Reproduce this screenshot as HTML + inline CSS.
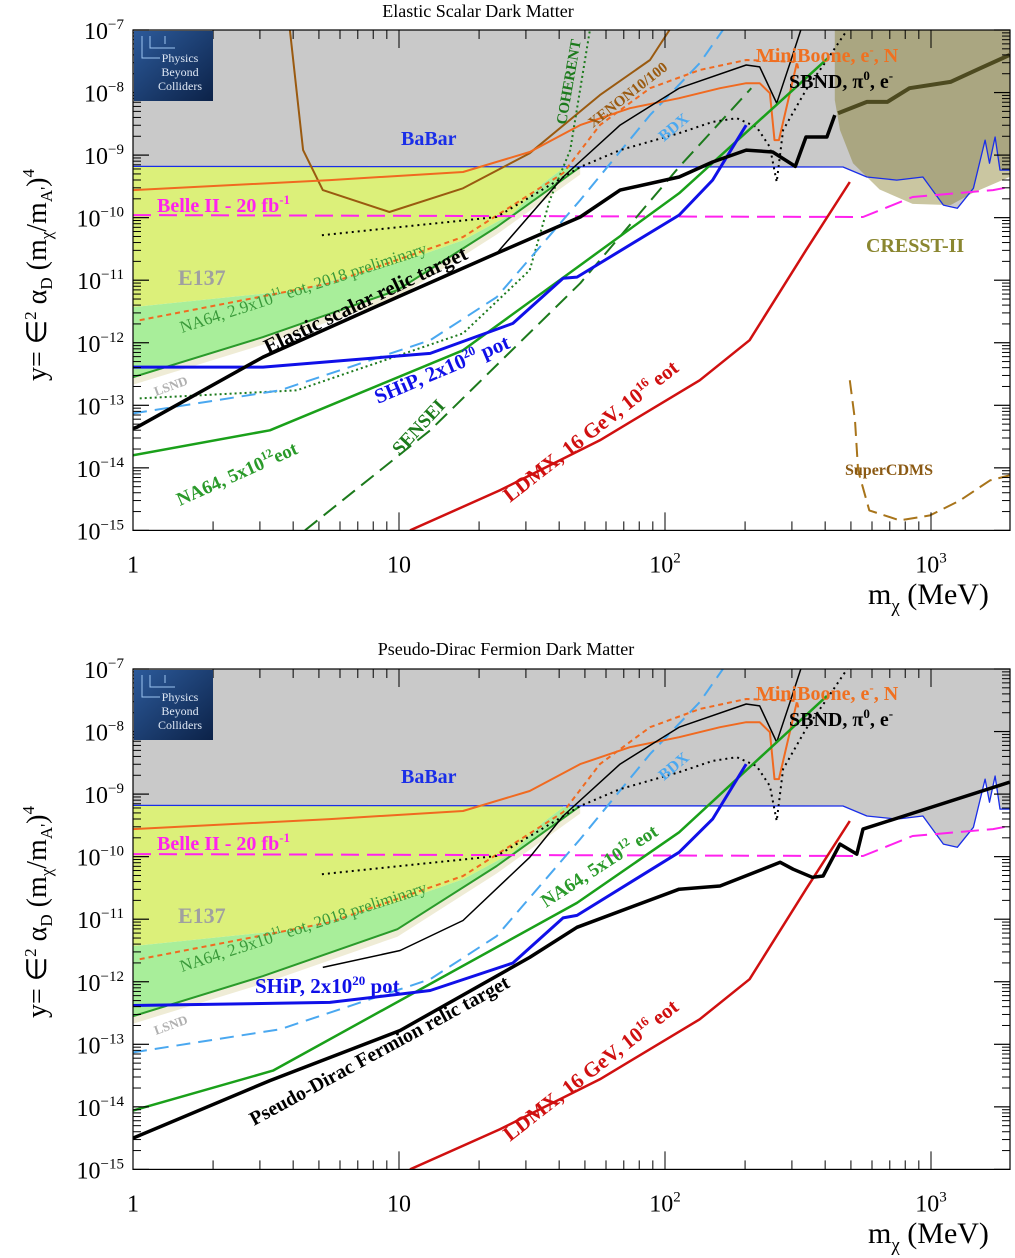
<!DOCTYPE html>
<html><head><meta charset="utf-8"><style>
html,body{margin:0;padding:0;background:#fff;}
svg{display:block;font-family:"Liberation Serif",serif;}
</style></head><body>
<svg id="chart" width="1015" height="1258" viewBox="0 0 1015 1258" xmlns="http://www.w3.org/2000/svg">
<g id="layer"></g>
</svg>
<script>
// ---------- data: [mass MeV, log10(y)] ----------
const babar = [[1,-9.18],[467,-9.19],[574,-9.35],[744,-9.40],[932,-9.35],[1113,-9.80],[1256,-9.85],[1443,-9.53],[1597,-8.76],[1660,-9.13],[1741,-8.71],[1817,-9.24],[1975,-9.24]];
const belle = [[1,-9.96],[555,-9.99],[853,-9.67],[1710,-9.56],[1975,-9.51]];
const miniboone = [[1,-9.56],[5.5,-9.40],[17.4,-9.27],[31,-8.95],[48,-8.52],[73.8,-8.25],[113,-8.09],[161,-7.93],[202,-7.85],[227,-7.85],[248,-8.01],[258,-8.76],[268,-8.76],[313,-7.53]];
const orangeDashed = [[1.06,-11.64],[5.5,-11.05],[17.4,-10.31],[41.4,-9.29],[56.9,-8.52],[87.8,-7.93],[135,-7.64],[202,-7.48],[313,-7.51],[318,-7.64]];
const sbndUpper = [[41.4,-9.35],[67.8,-8.52],[113,-7.93],[202,-7.56],[227,-7.59],[263,-8.17],[295,-7.53],[324,-7.0]];
const sbndLowTop = [[23.3,-10.57]];
const sbndLowBot = [[5.17,-11.77],[10.1,-11.50],[17.4,-11.02],[31,-10.01]];
const blackDotted = [[5.13,-10.28],[23.3,-9.99],[48,-9.19],[67.8,-8.92],[113,-8.65],[151,-8.47],[186,-8.41],[221,-8.55],[248,-8.87],[263,-9.43],[278,-8.6],[339,-7.96],[406,-7.48],[484,-7.0]];
const e137Bottom = [[41.4,-9.21],[34.8,-9.45],[26.8,-9.93],[17.4,-10.36],[9.86,-10.73],[4.13,-11.16],[1,-11.43]];
const na64Prelim = [[1,-12.55],[3.08,-11.91],[9.86,-11.16],[23.3,-10.15],[48,-9.19]];
const ldmx = [[11,-15],[23.9,-14.36],[56.9,-13.56],[135,-12.6],[208,-11.96],[339,-10.52],[495,-9.43]];
const bdx = [[1,-13.13],[3.57,-12.76],[13.1,-11.96],[23.3,-11.27],[48,-9.72],[87.8,-8.36],[135,-7.53],[165,-7.0]];
// top-only
const relicScalar = [[1,-13.37],[1.035,-13.35],[3.08,-12.23],[9.86,-11.27],[23.3,-10.57],[48,-9.99],[67.8,-9.56],[113,-9.35],[151,-9.11],[202,-8.92],[254,-8.95],[309,-9.18],[339,-8.71],[406,-8.71],[435,-8.36]];
const shipTop = [[1,-12.39],[3.08,-12.39],[13.1,-12.17],[26.8,-11.69],[41.4,-10.97],[46.7,-10.95],[113,-9.96],[151,-9.40],[202,-8.52]];
const na64Top = [[1,-13.8],[3.27,-13.4],[17.4,-12.12],[48,-10.76],[113,-9.61],[410,-7.45]];
const sensei = [[4.43,-15],[13.1,-13.4],[48,-11.05],[113,-9.19],[211,-7.93]];
const coherent = [[1.06,-12.89],[4.13,-12.76],[17.4,-11.85],[31,-10.84],[36.9,-9.72],[44,-8.92],[52.2,-7.0]];
const xenon = [[3.89,-7.0],[4.36,-8.92],[5.17,-9.56],[9.2,-9.91],[17.4,-9.53],[31,-8.97],[56.9,-8.04],[87.8,-7.48],[104,-7.0]];
const supercdms = [[495,-12.6],[518,-13.24],[532,-14.04],[586,-14.68],[763,-14.84],[991,-14.76],[1285,-14.52],[1667,-14.2],[1975,-14.12]];
const cresst = [[435,-7.0],[435,-8.12],[455,-8.6],[509,-9.13],[641,-9.55],[853,-9.78],[1184,-9.8],[1443,-9.6],[1975,-9.35],[1975,-7.0]];
const oliveLine = [[447,-8.33],[574,-8.15],[685,-8.15],[830,-7.93],[1184,-7.83],[1534,-7.61],[1975,-7.4]];
// bottom-only
const relicFermion = [[1,-14.5],[3.27,-13.58],[10.1,-12.78],[31,-11.61],[46.7,-11.13],[113,-10.52],[161,-10.47],[271,-10.09],[303,-10.2],[358,-10.33],[393,-10.31],[455,-9.8],[526,-9.96],[555,-9.56],[1975,-8.81]];
const na64Bot = [[1,-14.06],[3.36,-13.42],[46.7,-10.74],[113,-9.61],[406,-7.43]];
const shipBot = [[1,-12.38],[5.5,-12.33],[13.1,-12.14],[26.8,-11.70],[41.4,-10.98],[46.7,-10.94],[113,-9.93],[151,-9.40],[202,-8.52]];
// ticks
const yExp = [-7,-8,-9,-10,-11,-12,-13,-14,-15];
const xMajor = [1,10,100,1000];
const xMajorLabels = ["1","10","10","10"];
const xMajorSup = ["","","2","3"];

// ---------- axes ----------
const X0=133, DEC=266, XR=1010;
function X(m){return X0+Math.log10(m)*DEC;}
function makeY(top){return function(ly){return top+(-7-ly)*62.55;};}
const NS="http://www.w3.org/2000/svg";
const layer=document.getElementById('layer');
function el(tag,attrs,parent){const e=document.createElementNS(NS,tag);for(const k in attrs)e.setAttribute(k,attrs[k]);(parent||layer).appendChild(e);return e;}
function pathD(pts,Y){return pts.map((p,i)=>(i?'L':'M')+X(p[0]).toFixed(1)+' '+Y(p[1]).toFixed(1)).join(' ');}

function drawPanel(top, isTop){
  const Y=makeY(top);
  const bottom=Y(-15);
  const g=el('g',{});
  
  
  const clipId='clip'+top;
  const cp=el('clipPath',{id:clipId},g);
  el('rect',{x:X0,y:top,width:XR-X0,height:bottom-top},cp);
  const pg=el('g',{'clip-path':'url(#'+clipId+')'},g);
  const gray=el('path',{d:pathD([[1,-7],[1975,-7]].concat(babar.slice().reverse()),Y)+'Z',fill:'#c9c9c9'},pg);
  
  
  const yel=el('path',{d:pathD([[1,-9.18],[41.4,-9.18]].concat(e137Bottom),Y)+'Z',fill:'#dcf07a'},pg);
  
  
  const lsnd=el('path',{d:pathD(na64Prelim.map(p=>[p[0],p[1]-0.12]),Y)+' '+pathD(na64Prelim.slice().reverse(),Y).replace('M','L')+'Z',fill:'#efecd6'},pg);
  
  
  const grn=el('path',{d:pathD(e137Bottom.slice().reverse(),Y)+' '+pathD(na64Prelim.slice().reverse(),Y).replace('M','L')+'Z',fill:'#a8ee9a'},pg);
  
  
  if(isTop){
    const cr=el('path',{d:pathD(cresst,Y)+'Z',fill:'rgba(128,118,30,0.42)'},pg);
    
    
  }
  function line(pts,color,w,dash,name){
    const p=el('path',{d:pathD(pts,Y),fill:'none',stroke:color,'stroke-width':w,'stroke-linejoin':'round'},pg);
    if(dash)p.setAttribute('stroke-dasharray',dash);
    
    
    return p;
  }
  line(na64Prelim,'#2a9a2a',2,null,'na64-preliminary-line');
  line(babar,'#1a2ee8',1.3,null,'babar-line');
  line(belle,'#ff22ee',2,'18,8','belle2-line');
  if(isTop){
    line(xenon,'#9a5a10',2,null,'xenon-line');
    line(coherent,'#1c7a1c',2,'2,3','coherent-line');
    line(sensei,'#1c7a1c',2,'16,8','sensei-line');
    line(supercdms,'#a8741a',2,'14,7','supercdms-line');
    line(oliveLine,'#4d4a20',4,null,'cresst-projection-line');
  }
  line(bdx,'#4aa8f0',2,'14,8','bdx-line');
  line(orangeDashed,'#f06a20',2,'5,4','miniboone-dashed-line');
  line(miniboone,'#f06a20',2,null,'miniboone-line');
  line((isTop?sbndLowTop:sbndLowBot).concat(sbndUpper),'#000',1.5,null,'sbnd-line');
  line(blackDotted,'#000',2,'2,4','sbnd-dotted-line');
  line(ldmx,'#d01010',2.5,null,'ldmx-line');
  if(isTop){
    line(na64Top,'#1aa01a',2.5,null,'na64-5e12-line');
    line(shipTop,'#1010e8',3,null,'ship-line');
    line(relicScalar,'#000',3.5,null,'relic-target-line');
  } else {
    line(na64Bot,'#1aa01a',2.5,null,'na64-5e12-line');
    line(shipBot,'#1010e8',3,null,'ship-line');
    line(relicFermion,'#000',3.5,null,'relic-target-line');
  }
  const fr=el('rect',{x:X0,y:top,width:XR-X0,height:bottom-top,fill:'none',stroke:'#000','stroke-width':1.2},g);
  
  
  for(let i=0;i<yExp.length;i++){
    const e=yExp[i];
    const yy=Y(e);
    el('line',{x1:X0,x2:X0+16,y1:yy,y2:yy,stroke:'#000','stroke-width':1.2},g);
    el('line',{x1:XR,x2:XR-16,y1:yy,y2:yy,stroke:'#000','stroke-width':1.2},g);
    if(e>-15){for(let k=2;k<10;k++){const ym=Y(e-1+Math.log10(k));
      el('line',{x1:X0,x2:X0+8,y1:ym,y2:ym,stroke:'#000','stroke-width':1},g);
      el('line',{x1:XR,x2:XR-8,y1:ym,y2:ym,stroke:'#000','stroke-width':1},g);}}
    const t=el('text',{x:124,y:yy+9,'text-anchor':'end','font-size':24},g);
    
    
    t.innerHTML='10<tspan dy="-10" font-size="15">\u2212'+(-e)+'</tspan>';
  }
  for(let d=0;d<4;d++){
    for(let k=1;k<10;k++){const m=Math.pow(10,d)*k; if(m>1975)break; const xx=X(m); const L=k===1?18:9;
      el('line',{x1:xx,x2:xx,y1:bottom,y2:bottom-L,stroke:'#000','stroke-width':1},g);
      el('line',{x1:xx,x2:xx,y1:top,y2:top+L,stroke:'#000','stroke-width':1},g);}
  }
  for(let i=0;i<xMajor.length;i++){
    const t=el('text',{x:X(xMajor[i]),y:bottom+42,'text-anchor':'middle','font-size':24},g);
    
    
    t.innerHTML=xMajorLabels[i]+(xMajorSup[i]?'<tspan dy="-10" font-size="15">'+xMajorSup[i]+'</tspan>':'');
  }
}
drawPanel(30,true);
drawPanel(669,false);
</script>
<div style="position:absolute;left:0;top:0;width:1015px;height:1258px;pointer-events:none;">
<svg width="1015" height="1258" style="position:absolute;left:0;top:0;font-family:'Liberation Serif',serif;" xmlns="http://www.w3.org/2000/svg">
<defs><linearGradient id="lg" x1="0" y1="0" x2="1" y2="1"><stop offset="0" stop-color="#2c5a9a"/><stop offset="1" stop-color="#0c2248"/></linearGradient></defs>
<text x="478" y="17" font-size="18" text-anchor="middle">Elastic Scalar Dark Matter</text>
<g><rect x="134" y="31" width="79" height="70" fill="url(#lg)"/><path d="M142 36 V58 H160 M150 36 V48 H175 M165 36 V44" stroke="#9cc4f0" stroke-width="1" fill="none"/><text x="180" y="62" font-size="12" fill="#dfe8f5" text-anchor="middle">Physics</text><text x="180" y="76" font-size="12" fill="#dfe8f5" text-anchor="middle">Beyond</text><text x="180" y="90" font-size="12" fill="#dfe8f5" text-anchor="middle">Colliders</text></g>
<text x="401" y="145" font-size="20" font-weight="bold" fill="#1a2ee8">BaBar</text>
<text x="157" y="212" font-size="20" font-weight="bold" fill="#ff22ee">Belle II - 20 fb<tspan dy="-8" font-size="13">-1</tspan></text>
<text x="178" y="285" font-size="22" font-weight="bold" fill="#a0a0a0">E137</text>
<text x="866" y="252" font-size="20" font-weight="bold" fill="#8a8630">CRESST-II</text>
<text x="756" y="62" font-size="20" font-weight="bold" fill="#f07020">MiniBoone, e<tspan dy="-8" font-size="13">-</tspan><tspan dy="8">, N</tspan></text>
<text x="789" y="88" font-size="20" font-weight="bold">SBND, π<tspan dy="-8" font-size="13">0</tspan><tspan dy="8">, e</tspan><tspan dy="-8" font-size="13">-</tspan></text>
<text x="845" y="475" font-size="16" font-weight="bold" fill="#8b5a14">SuperCDMS</text>
<text transform="translate(182,333) rotate(-18)" font-size="17" fill="#3a9a3a">NA64, 2.9x10<tspan dy="-7" font-size="11">11</tspan><tspan dy="7"> eot, 2018 preliminary</tspan></text>
<text transform="translate(268,354) rotate(-25.5)" font-size="21" font-weight="bold">Elastic scalar relic target</text>
<text transform="translate(378,404) rotate(-23)" font-size="21" font-weight="bold" fill="#1010e8">SHiP, 2x10<tspan dy="-8" font-size="13">20</tspan><tspan dy="8"> pot</tspan></text>
<text transform="translate(400,456) rotate(-47)" font-size="19" font-weight="bold" fill="#1c7a1c">SENSEI</text>
<text transform="translate(510,503) rotate(-38)" font-size="21" font-weight="bold" fill="#d01010">LDMX, 16 GeV, 10<tspan dy="-8" font-size="13">16</tspan><tspan dy="8">  eot</tspan></text>
<text transform="translate(180,506) rotate(-24)" font-size="19" font-weight="bold" fill="#2a9a2a">NA64, 5x10<tspan dy="-8" font-size="12">12</tspan><tspan dy="8">eot</tspan></text>
<text transform="translate(566,125) rotate(-80)" font-size="15" font-weight="bold" fill="#1c7a1c">COHERENT</text>
<text transform="translate(593,128) rotate(-38)" font-size="15" font-weight="bold" fill="#9a5a10">XENON10/100</text>
<text transform="translate(664,142) rotate(-40)" font-size="16" font-weight="bold" fill="#4aa8f0">BDX</text>
<text transform="translate(156,396) rotate(-20)" font-size="13" font-weight="bold" fill="#b0b0b0">LSND</text>
<text transform="translate(46,275) rotate(-90)" font-size="28" text-anchor="middle">y= ∈<tspan dy="-10" font-size="17">2</tspan><tspan dy="10"> α</tspan><tspan dy="6" font-size="17">D</tspan><tspan dy="-6"> (m</tspan><tspan dy="6" font-size="17">χ</tspan><tspan dy="-6">/m</tspan><tspan dy="6" font-size="17">A'</tspan><tspan dy="-6">)</tspan><tspan dy="-12" font-size="17">4</tspan></text>
<text x="868" y="604" font-size="30">m<tspan dy="8" font-size="19">χ</tspan><tspan dy="-8"> (MeV)</tspan></text>
<text x="506" y="655" font-size="18" text-anchor="middle">Pseudo-Dirac Fermion Dark Matter</text>
<g><rect x="134" y="670" width="79" height="70" fill="url(#lg)"/><path d="M142 675 V697 H160 M150 675 V687 H175 M165 675 V683" stroke="#9cc4f0" stroke-width="1" fill="none"/><text x="180" y="701" font-size="12" fill="#dfe8f5" text-anchor="middle">Physics</text><text x="180" y="715" font-size="12" fill="#dfe8f5" text-anchor="middle">Beyond</text><text x="180" y="729" font-size="12" fill="#dfe8f5" text-anchor="middle">Colliders</text></g>
<text x="401" y="783" font-size="20" font-weight="bold" fill="#1a2ee8">BaBar</text>
<text x="157" y="850" font-size="20" font-weight="bold" fill="#ff22ee">Belle II - 20 fb<tspan dy="-8" font-size="13">-1</tspan></text>
<text x="178" y="923" font-size="22" font-weight="bold" fill="#a0a0a0">E137</text>
<text x="756" y="700" font-size="20" font-weight="bold" fill="#f07020">MiniBoone, e<tspan dy="-8" font-size="13">-</tspan><tspan dy="8">, N</tspan></text>
<text x="789" y="726" font-size="20" font-weight="bold">SBND, π<tspan dy="-8" font-size="13">0</tspan><tspan dy="8">, e</tspan><tspan dy="-8" font-size="13">-</tspan></text>
<text transform="translate(182,972) rotate(-18)" font-size="17" fill="#3a9a3a">NA64, 2.9x10<tspan dy="-7" font-size="11">11</tspan><tspan dy="7"> eot, 2018 preliminary</tspan></text>
<text x="255" y="993" font-size="21" font-weight="bold" fill="#1010e8">SHiP, 2x10<tspan dy="-8" font-size="13">20</tspan><tspan dy="8"> pot</tspan></text>
<text transform="translate(546,908) rotate(-33)" font-size="19" font-weight="bold" fill="#2a9a2a">NA64, 5x10<tspan dy="-8" font-size="12">12</tspan><tspan dy="8"> eot</tspan></text>
<text transform="translate(254,1126) rotate(-28.5)" font-size="20" font-weight="bold">Pseudo-Dirac Fermion relic target</text>
<text transform="translate(510,1142) rotate(-38)" font-size="21" font-weight="bold" fill="#d01010">LDMX, 16 GeV, 10<tspan dy="-8" font-size="13">16</tspan><tspan dy="8">  eot</tspan></text>
<text transform="translate(664,781) rotate(-40)" font-size="16" font-weight="bold" fill="#4aa8f0">BDX</text>
<text transform="translate(156,1035) rotate(-20)" font-size="13" font-weight="bold" fill="#b0b0b0">LSND</text>
<text transform="translate(46,912) rotate(-90)" font-size="28" text-anchor="middle">y= ∈<tspan dy="-10" font-size="17">2</tspan><tspan dy="10"> α</tspan><tspan dy="6" font-size="17">D</tspan><tspan dy="-6"> (m</tspan><tspan dy="6" font-size="17">χ</tspan><tspan dy="-6">/m</tspan><tspan dy="6" font-size="17">A'</tspan><tspan dy="-6">)</tspan><tspan dy="-12" font-size="17">4</tspan></text>
<text x="868" y="1243" font-size="30">m<tspan dy="8" font-size="19">χ</tspan><tspan dy="-8"> (MeV)</tspan></text>
</svg>
</div>
</body></html>
